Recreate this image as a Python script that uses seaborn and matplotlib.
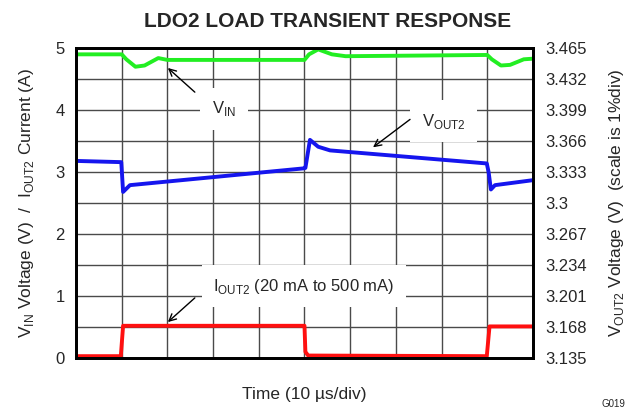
import numpy as np
import matplotlib
matplotlib.use("Agg")
import matplotlib.pyplot as plt
import seaborn as sns

# time in us (10 us/div, 10 divisions)
vin_t = [0, 10, 11, 13, 15, 18, 20, 50, 51, 53, 56, 59, 90, 91, 93, 95, 98, 100]
vin_v = [4.90, 4.90, 4.82, 4.70, 4.72, 4.84, 4.81, 4.81, 4.90, 4.98, 4.90, 4.87,
         4.89, 4.82, 4.72, 4.73, 4.82, 4.83]

vout_t = [0, 9.9, 10.3, 11.8, 49.9, 50.2, 51.2, 53, 55.6, 89.9, 90.3, 90.8, 91.7, 100]
vout_v = [3.3449, 3.3436, 3.3119, 3.3191, 3.3370, 3.3375, 3.3673, 3.3600, 3.3561,
          3.3422, 3.3330, 3.3145, 3.3191, 3.3244]

iout_t = [0, 9.8, 10.3, 50.0, 50.2, 50.8, 89.9, 90.5, 100]
iout_v = [0.03, 0.03, 0.52, 0.52, 0.10, 0.04, 0.03, 0.51, 0.51]

left_ticks = [0, 1, 2, 3, 4, 5]
right_ticks = [3.135, 3.168, 3.201, 3.234, 3.267, 3.3, 3.333, 3.366, 3.399, 3.432, 3.465]
right_labels = ["3.135", "3.168", "3.201", "3.234", "3.267", "3.3", "3.333",
                "3.366", "3.399", "3.432", "3.465"]

sns.set_style("white")
plt.rcParams['font.family'] = ['Liberation Sans', 'DejaVu Sans']
plt.rcParams['mathtext.fontset'] = 'custom'
plt.rcParams['mathtext.rm'] = 'Liberation Sans'

fig, ax = plt.subplots(figsize=(6.39, 4.08), dpi=100)
fig.subplots_adjust(left=0.119, right=0.834, top=0.882, bottom=0.1225)

ax.set_xlim(0, 100)
ax.set_ylim(0, 5)
ax.set_xticks(np.arange(0, 101, 10))
ax.set_xticklabels([])
ax.set_yticks(left_ticks)
ax.set_yticks(np.arange(0.5, 5, 1.0), minor=True)
ax.set_axisbelow(True)
ax.grid(True, which='both', color='#4a4a4a', lw=1)
ax.tick_params(which='both', length=0, labelsize=12, pad=8)

sns.lineplot(x=vin_t, y=vin_v, ax=ax, color='#22ee22', lw=2.8, estimator=None, sort=False)
sns.lineplot(x=iout_t, y=iout_v, ax=ax, color='#ff1010', lw=2.8, estimator=None, sort=False)

ax2 = ax.twinx()
ax2.set_ylim(3.135, 3.465)
sns.lineplot(x=vout_t, y=vout_v, ax=ax2, color='#1515ee', lw=2.8, estimator=None, sort=False)
ax2.set_yticks(right_ticks)
ax2.set_yticklabels(right_labels)
ax2.tick_params(length=0, labelsize=12, pad=9)
ax2.grid(False)

for a in (ax, ax2):
    for s in a.spines.values():
        s.set_color('black')
        s.set_linewidth(2)

# callouts
box = dict(boxstyle='square,pad=0.7', fc='white', ec='none')
arrow = dict(arrowstyle='->,head_length=0.5,head_width=0.25', color='black', lw=1,
             shrinkA=0, shrinkB=0)
ax.text(32.4, 4.02, r"V$_{\mathregular{IN}}$", ha='center', va='center', fontsize=12,
        bbox=box, zorder=3)
ax.annotate('', xy=(20.1, 4.68), xytext=(26.0, 4.29), arrowprops=arrow, zorder=4)
ax.text(80.5, 3.82, r"V$_{\mathregular{OUT2}}$", ha='center', va='center', fontsize=12,
        bbox=box, zorder=3)
ax.annotate('', xy=(65.0, 3.40), xytext=(73.1, 3.85), arrowprops=arrow, zorder=4)
ax.text(49.9, 1.16, r"I$_{\mathregular{OUT2}}$ (20 mA to 500 mA)", ha='center',
        va='center', fontsize=12, bbox=box, zorder=3)
ax.annotate('', xy=(20.1, 0.58), xytext=(26.0, 0.97), arrowprops=arrow, zorder=4)

ax.set_title('LDO2 LOAD TRANSIENT RESPONSE', fontsize=15, fontweight='bold',
             x=0.551, pad=15)
ax.set_xlabel('Time (10 µs/div)', fontsize=12.5)
ax.xaxis.set_label_coords(0.5, -0.092)
ax.set_ylabel(r"V$_{\mathregular{IN}}$ Voltage (V)  /  I$_{\mathregular{OUT2}}$ Current (A)",
              fontsize=12.5, labelpad=14)
ax2.set_ylabel(r"V$_{\mathregular{OUT2}}$ Voltage (V)  (scale is 1%div)",
               fontsize=12.5, labelpad=14)
fig.text(0.978, 0.01, 'G019', fontsize=7, ha='right', va='center')

fig.savefig('out.png', dpi=100)
